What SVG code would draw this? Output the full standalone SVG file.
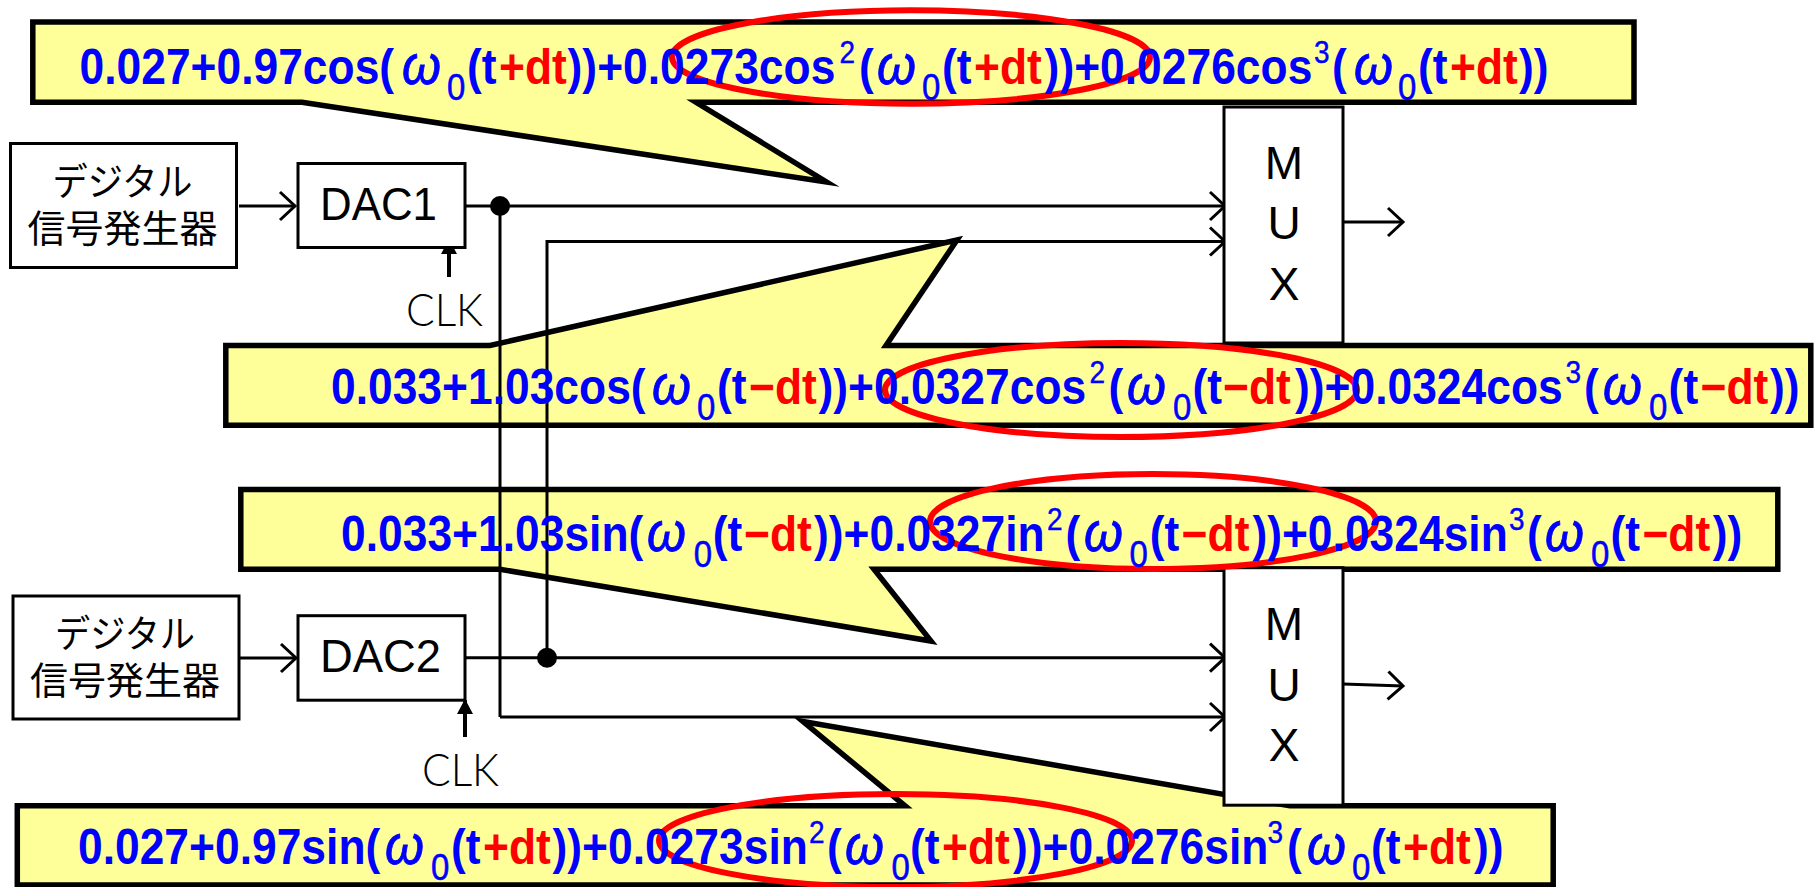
<svg xmlns="http://www.w3.org/2000/svg" width="1819" height="887" viewBox="0 0 1819 887">
<style>
.call{fill:#FFFF99;stroke:#000;stroke-width:5.5;stroke-miterlimit:12}
.box{fill:#fff;stroke:#000;stroke-width:3}
.w{fill:none;stroke:#000;stroke-width:3}
.t{fill:none;stroke:#000;stroke-width:4}
.oval{fill:none;stroke:#FF0000;stroke-width:6}
.lbl{font-family:"Liberation Sans",Arial,sans-serif;font-size:46px;fill:#000}
.jp{font-family:"Noto Sans CJK JP","Liberation Sans",sans-serif;font-size:38px;fill:#000}
.clk{font-family:Lato,"Liberation Sans",sans-serif;font-weight:300;font-size:46px;fill:#000}
.eq{font-family:"Liberation Sans",Arial,sans-serif;font-weight:bold;font-size:44.4px;fill:#0000FF}
.r{fill:#FF0000}
.o{font-style:italic;font-weight:normal;font-size:50px;stroke:#0000FF;stroke-width:.8}
.s{font-size:33px;font-weight:normal;stroke:#0000FF;stroke-width:.5}
.p{font-size:28px;font-weight:normal;stroke:#0000FF;stroke-width:.4}
</style>
<defs>
<marker id="open" markerUnits="userSpaceOnUse" markerWidth="20" markerHeight="32" refX="16" refY="15" orient="auto" overflow="visible"><path d="M1 1 L16 15 L1 29" fill="none" stroke="#000" stroke-width="3"/></marker>
<marker id="solid" markerUnits="userSpaceOnUse" markerWidth="15" markerHeight="16" refX="14" refY="8" orient="auto"><path d="M0 0 L15 8 L0 16 Z" fill="#000"/></marker>
</defs>

<g id="callout-1"><path class="call" d="M32.8 22H1634V102.3H696L826.5 182L302 102.3H32.8Z"/></g>
<g id="callout-2"><path class="call" d="M225.8 345.5H490L957 240L886 345.5H1810.8V425.3H225.8Z"/></g>
<g id="callout-3"><path class="call" d="M240.8 489.5H1777.8V569.3H874L931 641L500 569.3H240.8Z"/></g>
<g id="callout-4"><path class="call" d="M17.3 805.8H905L803 721.5L1290 805.8H1553.2V885H17.3Z"/></g>

<g id="connectors">
<path class="w" marker-end="url(#open)" d="M239 206H295"/>
<path class="w" marker-end="url(#open)" d="M465 206H1225"/>
<path class="w" d="M500 206V717"/>
<path class="w" marker-end="url(#open)" d="M500 717H1225"/>
<path class="w" marker-end="url(#open)" d="M547 657.7V241.5H1225"/>
<path class="w" marker-end="url(#open)" d="M465 657.7H1225"/>
<path class="w" marker-end="url(#open)" d="M240 658H296"/>
<path class="w" marker-end="url(#open)" d="M1343 222H1403"/>
<path class="w" marker-end="url(#open)" d="M1343 684L1403 686"/>
<path class="t" marker-end="url(#solid)" d="M449 277V240"/>
<path class="t" marker-end="url(#solid)" d="M465 737V700"/>
<circle cx="500" cy="206" r="10"/>
<circle cx="547" cy="657.7" r="10"/>
</g>

<g id="source-1"><rect class="box" x="10.5" y="143.5" width="226" height="124"/>
<text class="jp" x="122.5" y="195" text-anchor="middle" textLength="140" lengthAdjust="spacingAndGlyphs">デジタル</text>
<text class="jp" x="122.5" y="242" text-anchor="middle" textLength="190" lengthAdjust="spacingAndGlyphs">信号発生器</text></g>
<g id="dac-1"><rect class="box" x="298" y="163.5" width="167" height="84"/>
<text class="lbl" x="320" y="220" textLength="117" lengthAdjust="spacingAndGlyphs">DAC1</text></g>
<g id="clk-1"><text class="clk" x="406" y="326" textLength="77" lengthAdjust="spacingAndGlyphs">CLK</text></g>
<g id="mux-1"><rect class="box" x="1224" y="107" width="119" height="236"/>
<text class="lbl" x="1284" y="179" text-anchor="middle">M</text>
<text class="lbl" x="1284" y="239" text-anchor="middle">U</text>
<text class="lbl" x="1284" y="300" text-anchor="middle">X</text></g>

<g id="source-2"><rect class="box" x="13" y="596" width="226" height="123"/>
<text class="jp" x="125" y="647" text-anchor="middle" textLength="140" lengthAdjust="spacingAndGlyphs">デジタル</text>
<text class="jp" x="125" y="694" text-anchor="middle" textLength="190" lengthAdjust="spacingAndGlyphs">信号発生器</text></g>
<g id="dac-2"><rect class="box" x="298" y="615.7" width="167" height="84.5"/>
<text class="lbl" x="320" y="672" textLength="121" lengthAdjust="spacingAndGlyphs">DAC2</text></g>
<g id="clk-2"><text class="clk" x="422" y="786" textLength="77" lengthAdjust="spacingAndGlyphs">CLK</text></g>
<g id="mux-2"><rect class="box" x="1224" y="567.7" width="119" height="237.5"/>
<text class="lbl" x="1284" y="640" text-anchor="middle">M</text>
<text class="lbl" x="1284" y="701" text-anchor="middle">U</text>
<text class="lbl" x="1284" y="761" text-anchor="middle">X</text></g>

<g id="highlights">
<ellipse class="oval" cx="911" cy="57" rx="239" ry="46.7"/>
<ellipse class="oval" cx="1121" cy="390" rx="236" ry="47"/>
<ellipse class="oval" cx="1153" cy="521.5" rx="223" ry="47.5"/>
<ellipse class="oval" cx="895.5" cy="840.5" rx="236.5" ry="46.5"/>
</g>

<g id="equation-1"><text class="eq" transform="translate(0,83.5) scale(1,1.12)"><tspan x="79.5" y="0">0.027+0.97cos(</tspan><tspan class="o" x="402" y="0">ω</tspan><tspan class="s" x="447" y="14.3">0</tspan><tspan x="467" y="0">(t</tspan><tspan class="r" x="499" y="0">+dt</tspan><tspan x="567.6" y="0">))+0.0273cos</tspan><tspan class="p" x="839.5" y="-18.3">2</tspan><tspan x="859" y="0">(</tspan><tspan class="o" x="877" y="0">ω</tspan><tspan class="s" x="922" y="14.3">0</tspan><tspan x="942" y="0">(t</tspan><tspan class="r" x="974" y="0">+dt</tspan><tspan x="1044.6" y="0">))+0.0276cos</tspan><tspan class="p" x="1314" y="-18.3">3</tspan><tspan x="1332" y="0">(</tspan><tspan class="o" x="1354" y="0">ω</tspan><tspan class="s" x="1398" y="14.3">0</tspan><tspan x="1418" y="0">(t</tspan><tspan class="r" x="1450" y="0">+dt</tspan><tspan x="1519" y="0">))</tspan></text></g>

<g id="equation-2"><text class="eq" transform="translate(0,403.5) scale(1,1.12)"><tspan x="331" y="0">0.033+1.03cos(</tspan><tspan class="o" x="652" y="0">ω</tspan><tspan class="s" x="697" y="14.3">0</tspan><tspan x="717" y="0">(t</tspan><tspan class="r" x="749" y="0">−dt</tspan><tspan x="818.5" y="0">))+0.0327cos</tspan><tspan class="p" x="1089.5" y="-18.3">2</tspan><tspan x="1108.5" y="0">(</tspan><tspan class="o" x="1127" y="0">ω</tspan><tspan class="s" x="1173" y="14.3">0</tspan><tspan x="1192.6" y="0">(t</tspan><tspan class="r" x="1223" y="0">−dt</tspan><tspan x="1295" y="0">))+0.0324cos</tspan><tspan class="p" x="1565.5" y="-18.3">3</tspan><tspan x="1584" y="0">(</tspan><tspan class="o" x="1603" y="0">ω</tspan><tspan class="s" x="1649" y="14.3">0</tspan><tspan x="1668.6" y="0">(t</tspan><tspan class="r" x="1700.5" y="0">−dt</tspan><tspan x="1770" y="0">))</tspan></text></g>

<g id="equation-3"><text class="eq" transform="translate(0,550.5) scale(1,1.12)"><tspan x="341" y="0">0.033+1.03sin(</tspan><tspan class="o" x="647" y="0">ω</tspan><tspan class="s" x="693.7" y="14.3">0</tspan><tspan x="712.7" y="0">(t</tspan><tspan class="r" x="744" y="0">−dt</tspan><tspan x="814" y="0">))+0.0327in</tspan><tspan class="p" x="1047" y="-18.3">2</tspan><tspan x="1065.5" y="0">(</tspan><tspan class="o" x="1084" y="0">ω</tspan><tspan class="s" x="1129.5" y="14.3">0</tspan><tspan x="1149.7" y="0">(t</tspan><tspan class="r" x="1181.6" y="0">−dt</tspan><tspan x="1252.4" y="0">))+0.0324sin</tspan><tspan class="p" x="1509" y="-18.3">3</tspan><tspan x="1527" y="0">(</tspan><tspan class="o" x="1545" y="0">ω</tspan><tspan class="s" x="1591" y="14.3">0</tspan><tspan x="1610.5" y="0">(t</tspan><tspan class="r" x="1642.4" y="0">−dt</tspan><tspan x="1712.7" y="0">))</tspan></text></g>

<g id="equation-4"><text class="eq" transform="translate(0,863.5) scale(1,1.12)"><tspan x="78" y="0">0.027+0.97sin(</tspan><tspan class="o" x="385" y="0">ω</tspan><tspan class="s" x="431" y="14.3">0</tspan><tspan x="451" y="0">(t</tspan><tspan class="r" x="483" y="0">+dt</tspan><tspan x="552.5" y="0">))+0.0273sin</tspan><tspan class="p" x="809" y="-18.3">2</tspan><tspan x="827" y="0">(</tspan><tspan class="o" x="845" y="0">ω</tspan><tspan class="s" x="891.6" y="14.3">0</tspan><tspan x="910" y="0">(t</tspan><tspan class="r" x="942" y="0">+dt</tspan><tspan x="1013" y="0">))+0.0276sin</tspan><tspan class="p" x="1267.5" y="-18.3">3</tspan><tspan x="1287" y="0">(</tspan><tspan class="o" x="1307" y="0">ω</tspan><tspan class="s" x="1352" y="14.3">0</tspan><tspan x="1371" y="0">(t</tspan><tspan class="r" x="1403" y="0">+dt</tspan><tspan x="1474" y="0">))</tspan></text></g>
</svg>
